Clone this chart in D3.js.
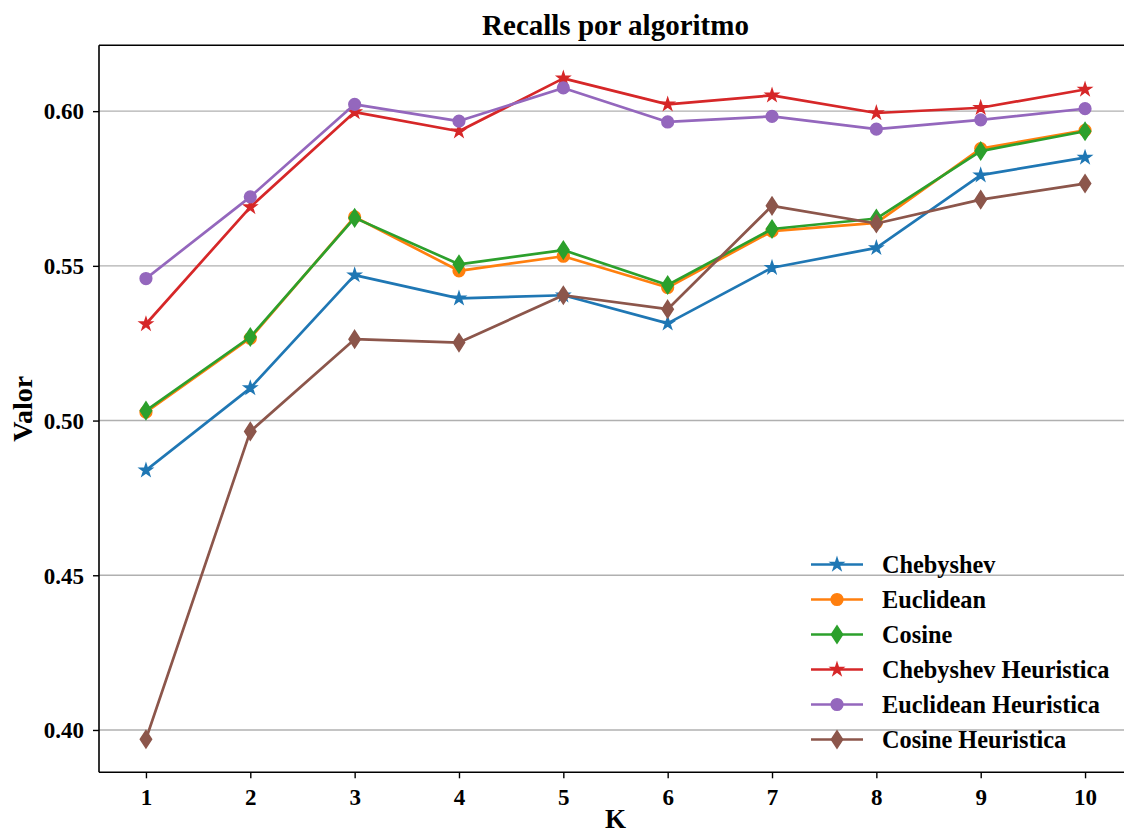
<!DOCTYPE html>
<html>
<head>
<meta charset="utf-8">
<script src="https://cdn.jsdelivr.net/npm/d3@7"></script>
<style>
  html, body { margin: 0; padding: 0; background: #fff; }
  svg { display: block; }
  text { font-family: "Liberation Serif", "Times New Roman", serif; font-weight: bold; fill: #000; }
</style>
</head>
<body>
<svg id="chart" width="1124" height="835"></svg>
<script>
// ---- data ----
const kValues = [1, 2, 3, 4, 5, 6, 7, 8, 9, 10];
const chebyshev          = [0.4839, 0.5105, 0.5470, 0.5395, 0.5405, 0.5314, 0.5494, 0.5558, 0.5793, 0.5850];
const euclidean          = [0.5027, 0.5266, 0.5658, 0.5484, 0.5531, 0.5430, 0.5612, 0.5639, 0.5879, 0.5938];
const cosine             = [0.5032, 0.5270, 0.5655, 0.5505, 0.5551, 0.5438, 0.5619, 0.5653, 0.5871, 0.5935];
const chebyshevHeuristic = [0.5312, 0.5690, 0.5997, 0.5935, 0.6106, 0.6022, 0.6051, 0.5994, 0.6011, 0.6070];
const euclideanHeuristic = [0.5459, 0.5723, 0.6022, 0.5968, 0.6075, 0.5965, 0.5983, 0.5942, 0.5972, 0.6008];
const cosineHeuristic    = [0.3970, 0.4965, 0.5263, 0.5252, 0.5405, 0.5360, 0.5694, 0.5637, 0.5714, 0.5766];
const seriesNames   = ["Chebyshev", "Euclidean", "Cosine", "Chebyshev Heuristica", "Euclidean Heuristica", "Cosine Heuristica"];
const seriesValues  = [chebyshev, euclidean, cosine, chebyshevHeuristic, euclideanHeuristic, cosineHeuristic];
const seriesColors  = ["#1f77b4", "#ff7f0e", "#2ca02c", "#d62728", "#9467bd", "#8c564b"];
const seriesMarkers = ["star", "circle", "diamond", "star", "circle", "diamond"];
const yTicks = [0.40, 0.45, 0.50, 0.55, 0.60];
const titleText = "Recalls por algoritmo";
const xLabel = "K";
const yLabel = "Valor";

// ---- layout ----
const plot = { left: 99, right: 1132, top: 45.3, bottom: 772.3 };
const svg = d3.select("#chart");

const xMin = d3.min(kValues), xMax = d3.max(kValues);
const xPad = (xMax - xMin) * 0.05;
const x = d3.scaleLinear().domain([xMin - xPad, xMax + xPad]).range([plot.left, plot.right]);

const allVals = seriesValues.flat();
const yMin = d3.min(allVals), yMax = d3.max(allVals);
const yPad = (yMax - yMin) * 0.05;
const y = d3.scaleLinear().domain([yMin - yPad, yMax + yPad]).range([plot.bottom, plot.top]);

// grid
svg.append("g").selectAll("line").data(yTicks).join("line")
  .attr("x1", plot.left).attr("x2", plot.right)
  .attr("y1", d => y(d)).attr("y2", d => y(d))
  .attr("stroke", "#b0b0b0").attr("stroke-width", 1.4);

// markers
function markerPath(type) {
  if (type === "circle") {
    const r = 5.8;
    return `M${r},0A${r},${r} 0 1,1 ${-r},0A${r},${r} 0 1,1 ${r},0Z`;
  }
  if (type === "star") {
    const R = 6.3, ri = R * 0.381966;
    let p = "";
    for (let i = 0; i < 10; i++) {
      const rr = i % 2 === 0 ? R : ri;
      const a = -Math.PI / 2 + i * Math.PI / 5;
      p += (i === 0 ? "M" : "L") + (rr * Math.cos(a)).toFixed(2) + "," + (rr * Math.sin(a)).toFixed(2);
    }
    return p + "Z";
  }
  // thin diamond
  const h = 8.6, w = 5.6;
  return `M0,${-h}L${w},0L0,${h}L${-w},0Z`;
}

svg.append("clipPath").attr("id", "plotclip").append("rect")
  .attr("x", plot.left).attr("y", plot.top)
  .attr("width", plot.right - plot.left).attr("height", plot.bottom - plot.top);

const line = d3.line().x((d, i) => x(kValues[i])).y(d => y(d));
const lines = svg.append("g").attr("clip-path", "url(#plotclip)");
seriesValues.forEach((vals, si) => {
  const g = lines.append("g");
  g.append("path").datum(vals).attr("d", line)
    .attr("fill", "none").attr("stroke", seriesColors[si]).attr("stroke-width", 2.7)
    .attr("stroke-linejoin", "round").attr("stroke-linecap", "square");
  g.selectAll("path.m").data(vals).join("path").attr("class", "m")
    .attr("d", markerPath(seriesMarkers[si]))
    .attr("transform", (d, i) => `translate(${x(kValues[i])},${y(d)})`)
    .attr("fill", seriesColors[si]).attr("stroke", seriesColors[si]).attr("stroke-width", 1.6)
    .attr("stroke-linejoin", "miter");
});

// axes
const xAxis = d3.axisBottom(x).tickValues(kValues).tickFormat(d3.format("d")).tickSize(6).tickPadding(6);
const yAxis = d3.axisLeft(y).tickValues(yTicks).tickFormat(d3.format(".2f")).tickSize(6).tickPadding(9);

const gx = svg.append("g").attr("transform", `translate(0,${plot.bottom})`).call(xAxis);
const gy = svg.append("g").attr("transform", `translate(${plot.left},0)`).call(yAxis);
[gx, gy].forEach(g => {
  g.select(".domain").remove();
  g.selectAll(".tick line").attr("stroke", "#000").attr("stroke-width", 1.4);
  g.selectAll(".tick text").style("font-size", "23px").attr("fill", "#000");
});
gx.selectAll(".tick text").attr("dy", "0.88em");
gy.selectAll(".tick text").attr("dy", "0.34em");

// spines (left, bottom, top; right one lies beyond the canvas)
const sp = svg.append("g").attr("stroke", "#000").attr("stroke-width", 1.6).attr("fill", "none");
sp.append("line").attr("x1", plot.left).attr("x2", plot.left).attr("y1", plot.top).attr("y2", plot.bottom);
sp.append("line").attr("x1", plot.left).attr("x2", plot.right).attr("y1", plot.bottom).attr("y2", plot.bottom);
sp.append("line").attr("x1", plot.left).attr("x2", plot.right).attr("y1", plot.top).attr("y2", plot.top);
sp.append("line").attr("x1", plot.right).attr("x2", plot.right).attr("y1", plot.top).attr("y2", plot.bottom);

// title and labels
svg.append("text").attr("x", (plot.left + plot.right) / 2).attr("y", 35)
  .attr("text-anchor", "middle").style("font-size", "29px").text(titleText);
svg.append("text").attr("x", (plot.left + plot.right) / 2).attr("y", 828)
  .attr("text-anchor", "middle").style("font-size", "27px").text(xLabel);
svg.append("text").attr("transform", `translate(32,${(plot.top + plot.bottom) / 2}) rotate(-90)`)
  .attr("text-anchor", "middle").style("font-size", "28px").text(yLabel);

// legend
const legend = svg.append("g");
const leg = { x1: 811, x2: 863, tx: 882, y0: 564.5, dy: 35 };
seriesNames.forEach((name, i) => {
  const yy = leg.y0 + i * leg.dy;
  legend.append("line").attr("x1", leg.x1).attr("x2", leg.x2).attr("y1", yy).attr("y2", yy)
    .attr("stroke", seriesColors[i]).attr("stroke-width", 2.7);
  legend.append("path").attr("d", markerPath(seriesMarkers[i]))
    .attr("transform", `translate(${(leg.x1 + leg.x2) / 2},${yy})`)
    .attr("fill", seriesColors[i]).attr("stroke", seriesColors[i]).attr("stroke-width", 1.6);
  legend.append("text").attr("x", leg.tx).attr("y", yy + 8).style("font-size", "24.3px").text(name);
});
</script>
</body>
</html>
